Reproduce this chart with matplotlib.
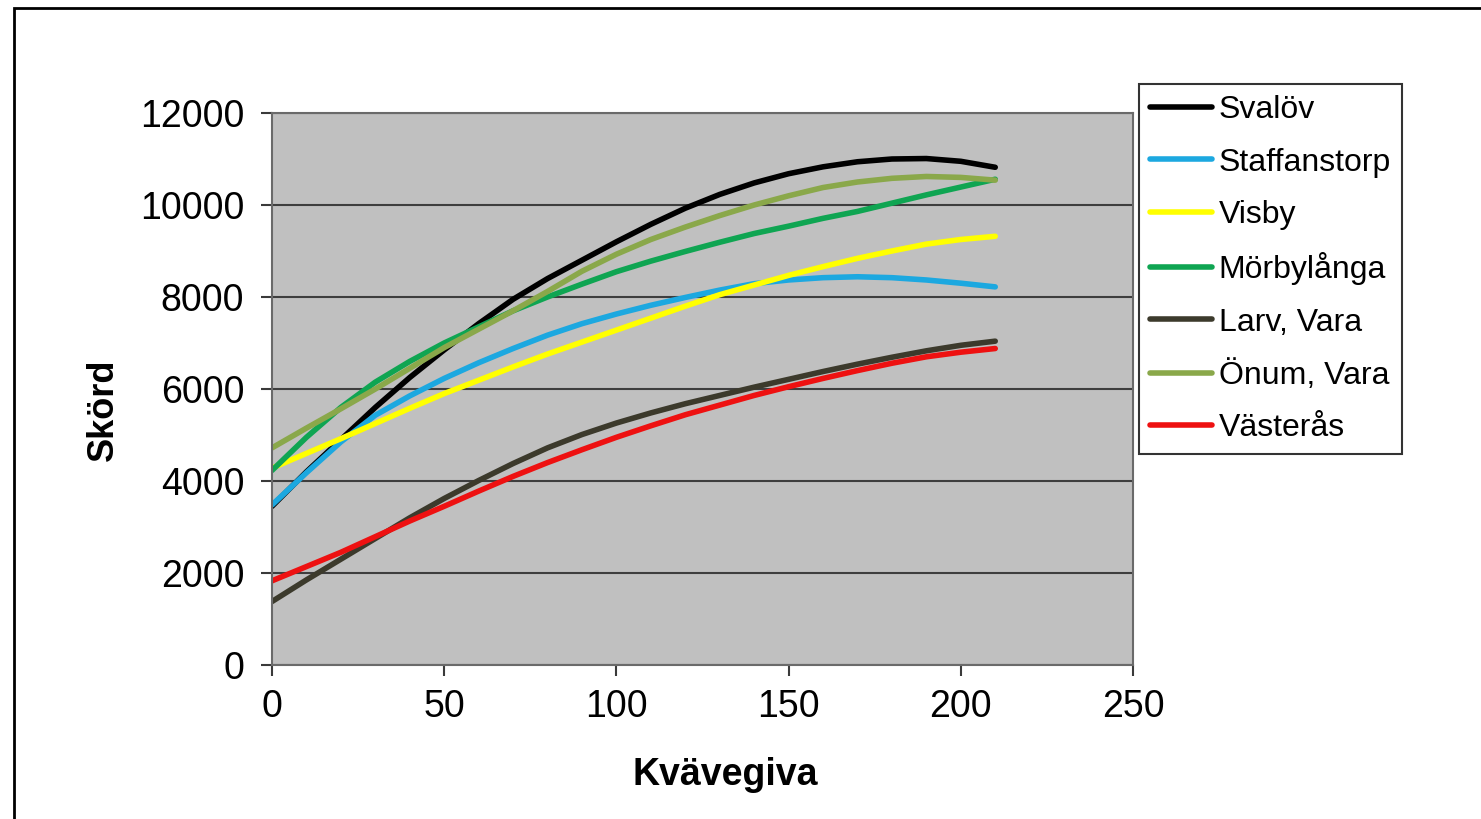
import matplotlib.pyplot as plt
from matplotlib.patches import Rectangle

plt.rcParams['font.family'] = ['Liberation Sans', 'DejaVu Sans']

# Kvävegiva (x) och skörd per försöksplats
kvave = [0, 10, 20, 30, 40, 50, 60, 70, 80, 90, 100, 110,
         120, 130, 140, 150, 160, 170, 180, 190, 200, 210]

svalov = [3450, 4200, 4900, 5600, 6250, 6850, 7420, 7950, 8400, 8800, 9200, 9580,
          9930, 10230, 10480, 10680, 10830, 10940, 11000, 11010, 10950, 10820]
staffanstorp = [3480, 4180, 4850, 5430, 5850, 6230, 6570, 6880, 7170, 7420, 7630, 7820,
                7990, 8150, 8290, 8370, 8420, 8440, 8420, 8370, 8300, 8220]
visby = [4280, 4600, 4920, 5250, 5580, 5900, 6190, 6480, 6760, 7020, 7280, 7540,
         7800, 8050, 8260, 8470, 8660, 8840, 9000, 9150, 9250, 9320]
morbylanga = [4230, 4950, 5600, 6150, 6600, 7000, 7350, 7700, 8000, 8280, 8550, 8780,
              8990, 9190, 9380, 9540, 9710, 9860, 10040, 10220, 10390, 10560]
larv_vara = [1380, 1850, 2300, 2750, 3200, 3620, 4010, 4380, 4720, 5010, 5260, 5480,
             5680, 5860, 6040, 6210, 6380, 6540, 6690, 6830, 6950, 7040]
onum_vara = [4720, 5150, 5570, 6000, 6450, 6900, 7300, 7700, 8120, 8560, 8930, 9250,
             9520, 9770, 10000, 10200, 10380, 10500, 10580, 10620, 10600, 10540]
vasteras = [1830, 2140, 2450, 2790, 3130, 3450, 3780, 4100, 4400, 4680, 4950, 5200,
            5440, 5650, 5860, 6050, 6230, 6400, 6560, 6700, 6800, 6880]

serier = [
    ("Svalöv", svalov, "#000000"),
    ("Staffanstorp", staffanstorp, "#1CA8E0"),
    ("Visby", visby, "#FFFF00"),
    ("Mörbylånga", morbylanga, "#0FA552"),
    ("Larv, Vara", larv_vara, "#3C3A2C"),
    ("Önum, Vara", onum_vara, "#8AA84A"),
    ("Västerås", vasteras, "#EE1111"),
]

fig = plt.figure(figsize=(14.81, 8.19), dpi=100)
ax = fig.add_axes([272 / 1481, 154 / 819, 861 / 1481, 552 / 819])
ax.set_facecolor("#C0C0C0")

for namn, varden, farg in serier:
    ax.plot(kvave, varden, color=farg, lw=4, label=namn, solid_capstyle="round")

ax.set_xlim(0, 250)
ax.set_ylim(0, 12000)
ax.set_xticks(range(0, 251, 50))
ax.set_yticks(range(0, 12001, 2000))
ax.yaxis.grid(True, color="#3e3e3e", lw=1.5)
ax.set_axisbelow(True)

for s in ax.spines.values():
    s.set_color("#6a6a6a")
    s.set_linewidth(1.5)

ax.tick_params(axis="both", direction="out", length=8, width=1.5,
               color="#3a3a3a", labelsize=27)
ax.tick_params(axis="x", pad=9)
ax.tick_params(axis="y", pad=12)

ax.set_xlabel("Kvävegiva", fontsize=27, fontweight="bold", va="center")
ax.set_ylabel("Skörd", fontsize=26, fontweight="bold", va="center")
ax.xaxis.set_label_coords((725 - 272) / 861, (665 - 775) / 552)
ax.yaxis.set_label_coords((103 - 272) / 861, (665 - 410) / 552)

leg = fig.legend(loc="upper left", bbox_to_anchor=(1139 / 1481, 1 - 84 / 819),
                 fontsize=23, frameon=True, fancybox=False, handlelength=1.95,
                 handletextpad=0.2, labelspacing=0.7, borderpad=0.35,
                 borderaxespad=0, edgecolor="#000000")
leg.get_frame().set_linewidth(1.5)
for line in leg.get_lines():
    line.set_linewidth(4)

# ram runt hela diagrammet
fig.patches.append(Rectangle((14 / 1481, -0.1), 1.2, 1 - 8 / 819 + 0.1,
                             transform=fig.transFigure, fill=False,
                             edgecolor="#000000", lw=2))

fig.savefig("out.png", dpi=100)
